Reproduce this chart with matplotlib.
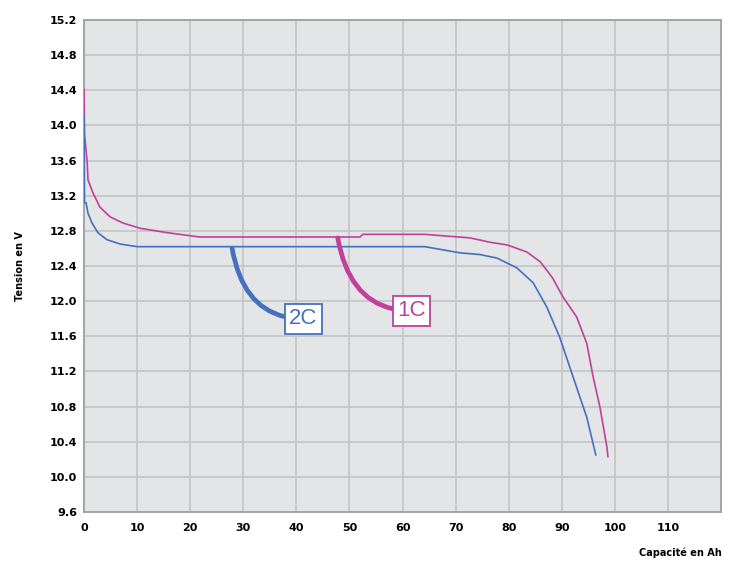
import matplotlib
matplotlib.use("Agg")
from matplotlib import pyplot as plt

# discharge curves (capacity Ah, voltage V)
cap_2c = [0, 0.1, 0.38, 0.75, 1.5, 2.6, 4.3, 6.8, 10.0, 64.2, 70.8, 74.6, 77.8,
          81.5, 84.6, 87.2, 89.6, 91.5, 93.4, 94.7, 96.4]
volt_2c = [14.12, 13.12, 13.12, 13.0, 12.89, 12.78, 12.70, 12.65, 12.62, 12.62, 12.55,
           12.53, 12.49, 12.38, 12.21, 11.93, 11.59, 11.25, 10.91, 10.68, 10.25]

cap_1c = [0, 0.1, 0.6, 0.75, 1.7, 3.0, 4.9, 7.3, 10.5, 15.6, 21.8, 52.0, 52.5, 64.2,
          72.7, 76.5, 79.7, 83.4, 85.9, 87.2, 88.3, 90.2, 92.8, 94.7, 95.9, 97.2, 98.5, 98.7]
volt_1c = [14.41, 13.9, 13.58, 13.38, 13.23, 13.07, 12.96, 12.89, 12.83, 12.78, 12.73,
           12.73, 12.76, 12.76, 12.72, 12.67, 12.64, 12.56, 12.45, 12.35, 12.26, 12.05,
           11.82, 11.52, 11.14, 10.79, 10.34, 10.23]

x_ticks = [0, 10, 20, 30, 40, 50, 60, 70, 80, 90, 100, 110]
y_ticks = [9.6, 10.0, 10.4, 10.8, 11.2, 11.6, 12.0, 12.4, 12.8, 13.2, 13.6, 14.0, 14.4, 14.8, 15.2]

labels = ["2C", "1C"]
label_start = [(27.9, 12.60), (47.8, 12.72)]
label_pos = [(41.3, 11.80), (61.7, 11.89)]

blue = "#4470bf"
magenta = "#c0409c"

fig = plt.figure(figsize=(7.35, 5.63), dpi=100)
ax = fig.add_axes([0.1143, 0.0906, 0.8667, 0.8739])
ax.set_facecolor("#e4e5e7")

ax.plot(cap_1c, volt_1c, color=magenta, lw=1.2, zorder=3)
ax.plot(cap_2c, volt_2c, color=blue, lw=1.2, zorder=4)

for name, start, pos, col in zip(labels, label_start, label_pos, [blue, magenta]):
    ax.annotate(name, xy=start, xytext=pos, ha="center", va="center",
                fontsize=16, family="Liberation Sans", color=col, zorder=6,
                bbox=dict(boxstyle="square,pad=0.2", fc="white", ec=col, lw=1.3),
                arrowprops=dict(arrowstyle="-", color=col, lw=3.4, shrinkA=0, shrinkB=0,
                                connectionstyle="angle3,angleA=0,angleB=-80"))

ax.set_xlim(0, 120)
ax.set_ylim(9.6, 15.2)
ax.set_xticks(x_ticks + [120])
ax.set_xticklabels([str(t) for t in x_ticks] + [""])
ax.set_yticks(y_ticks)
ax.set_yticklabels([f"{t:.1f}" for t in y_ticks])
ax.tick_params(length=0, labelsize=8)
ax.tick_params(axis="y", pad=5)
ax.tick_params(axis="x", pad=8)
for lab in ax.get_xticklabels() + ax.get_yticklabels():
    lab.set_fontweight("bold")
ax.grid(color="#c6c7c9", lw=1.3)
ax.set_axisbelow(True)
for sp in ax.spines.values():
    sp.set_color("#a3a4a6")
    sp.set_linewidth(1.4)

fig.text(20 / 735, 1 - 266 / 563, "Tension en V", rotation=90, ha="center", va="center",
         fontsize=7, fontweight="bold")
fig.text(722 / 735, 1 - 553 / 563, "Capacité en Ah", ha="right", va="center",
         fontsize=7, fontweight="bold")

fig.savefig("out.png", dpi=100)
